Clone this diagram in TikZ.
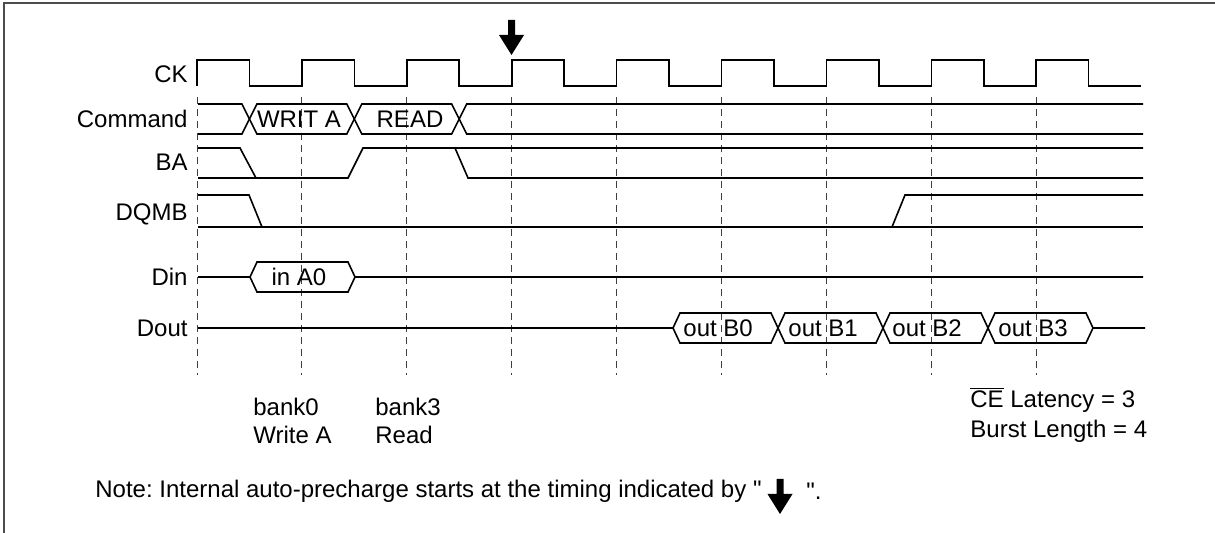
\documentclass[tikz,border=0pt]{standalone}
\usepackage{fontspec}
\setmainfont{Liberation Sans}[Ligatures=TeXOff]
\usepackage{tikz}
\usetikzlibrary{calc, positioning}
\frenchspacing

\begin{document}
\begin{tikzpicture}[x=0.5pt, y=-0.5pt,
        every node/.style={inner sep=0pt, font=\fontsize{12pt}{14pt}\selectfont},
        sig/.style={line width=0.8pt, line join=miter},
        grid/.style={line width=0.5pt, draw=black!75, dash pattern=on 3.5pt off 2.5pt},
        lbl/.style={anchor=east},
        precharge/.pic={\fill (-3.5,0) -- (3.5,0) -- (3.5,15) -- (12.5,15) -- (0,35) -- (-12.5,15) -- (-3.5,15) -- cycle;}]
        \useasboundingbox (0,0) rectangle (1215,533);

        % Frame, top and left edge only
        \draw[line width=0.75pt, black!70] (4,533) -- (4,3) -- (1215,3);

        % Signal names left of the waveforms
        \node[lbl] (ck) at (188,74) {CK};
        \node[lbl] (cmd) at (188,119) {Command};
        \node[lbl] (ba) at (188,162) {BA};
        \node[lbl] (dqmb) at (188,214) {DQMB};
        \node[lbl] (din) at (188,277) {Din};
        \node[lbl] (dout) at (188,328) {Dout};

        % Dashed lines at the rising clock edges
        \foreach \k in {0,...,8}
            \draw[grid] ({197+104.9*\k},97) -- ({197+104.9*\k},375);

        % Draw the clock
        \draw[sig] (197,86) foreach \k in {0,...,8} {
            -- ({197+104.9*\k},60) -- ({249.45+104.9*\k},60)
            -- ({249.45+104.9*\k},86) -- ({301.9+104.9*\k},86) };

        % Auto-precharge arrow
        \pic at (511.5,20) {precharge};

        % Command bus
        \draw[sig] (198,104) -- (241.9,104) -- (256.9,134) -- (346.8,134) -- (361.8,104) -- (451.7,104) -- (466.7,134) -- (1143,134);
        \draw[sig] (198,134) -- (241.9,134) -- (256.9,104) -- (346.8,104) -- (361.8,134) -- (451.7,134) -- (466.7,104) -- (1143,104);
        \node (writa) at (299,119) {WRIT A};
        \node (read) at (410,119) {READ};

        % BA
        \draw[sig] (198,148) -- (240,148) -- (256,178);
        \draw[sig] (198,178) -- (348,178) -- (363,148) -- (1143,148);
        \draw[sig] (455,148) -- (468,178) -- (1143,178);

        % DQMB
        \draw[sig] (198,195) -- (249,195) -- (262,227);
        \draw[sig] (198,227) -- (1143,227);
        \draw[sig] (892,227) -- (905,195) -- (1143,195);

        % Din
        \draw[sig] (198,277) -- (250,277) -- (257,262) -- (348,262) -- (355,277) -- (1143,277);
        \draw[sig] (250,277) -- (257,292) -- (348,292) -- (355,277);
        \node (ina0) at (299,277) {in A0};

        % Dout burst
        \draw[sig] (198,328) -- (673,328) -- (680,313) -- (771,313) -- (785,343) -- (876,343) -- (890,313)
            -- (981,313) -- (995,343) -- (1086,343) -- (1093,328) -- (1145,328);
        \draw[sig] (673,328) -- (680,343) -- (771,343) -- (785,313) -- (876,313) -- (890,343)
            -- (981,343) -- (995,313) -- (1086,313) -- (1093,328);
        \node[anchor=west] (outb0) at (683,328) {out B0};
        \node[anchor=west] (outb1) at (788,328) {out B1};
        \node[anchor=west] (outb2) at (892,328) {out B2};
        \node[anchor=west] (outb3) at (998,328) {out B3};

        % Text below the waveforms
        \node[anchor=west, align=left] (bank0) at (253,421) {bank0\\Write A};
        \node[anchor=west, align=left] (bank3) at (375,421) {bank3\\Read};
        \node[anchor=west, align=left] (mode) at (970,415) {$\overline{\mbox{CE}}$ Latency = 3\\[1pt]Burst Length = 4};

        % Note line
        \node[anchor=west] (note) at (95,491) {Note: Internal auto-precharge starts at the timing indicated by "};
        \pic at (780,479) {precharge};
        \node[anchor=west] (noteend) at (806,491) {".};
    \end{tikzpicture}
\end{document}
